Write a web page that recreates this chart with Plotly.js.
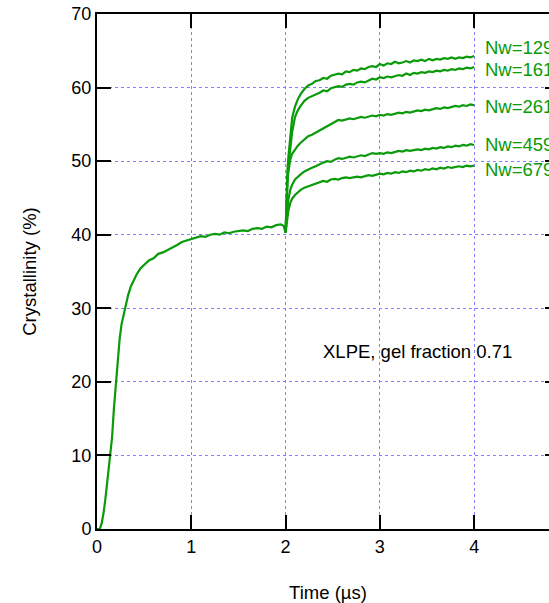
<!DOCTYPE html>
<html>
<head>
<meta charset="utf-8">
<script src="https://cdn.plot.ly/plotly-3.0.1.min.js"></script>
<style>
html,body{margin:0;padding:0;overflow:hidden;background:#fff;}
#chart{width:600px;height:603px;}
</style>
</head>
<body>
<div id="chart"></div>
<script>
// Common curve, 0 - 2 µs
const tBase = [0,0.03,0.05,0.07,0.09,0.11,0.13,0.145,0.16,0.18,
  0.2,0.22,0.24,0.26,0.28,0.3,0.33,0.36,0.39,0.42,
  0.46,0.5,0.55,0.6,0.65,0.7,0.75,0.8,0.85,0.9,
  0.95,1.0,1.05,1.1,1.15,1.2,1.25,1.3,1.35,1.4,
  1.45,1.5,1.55,1.6,1.65,1.7,1.75,1.8,1.85,1.9,
  1.95,1.98,2.0];
const yBase = [0,0,0.8,2.2,4.2,6.5,8.8,10.2,12.5,16.5,
  20,23.2,25.8,27.8,29.0,30.2,31.8,33.0,33.9,34.6,
  35.4,35.9,36.5,36.8,37.4,37.6,37.9,38.2,38.6,39.0,
  39.2,39.5,39.6,39.8,39.7,40.0,40.1,40.0,40.3,40.2,
  40.4,40.5,40.6,40.5,40.8,40.9,40.8,41.1,41.0,41.3,
  41.4,41.2,40.3];

// Branches after 2 µs
const tBranch = [2.00,2.01,2.02,2.03,2.05,2.07,2.10,2.13,2.16,2.20,
  2.24,2.28,2.32,2.36,2.40,2.44,2.48,2.52,2.56,2.60,
  2.64,2.68,2.72,2.76,2.80,2.84,2.88,2.92,2.96,3.00,
  3.04,3.08,3.12,3.16,3.20,3.24,3.28,3.32,3.36,3.40,
  3.44,3.48,3.52,3.56,3.60,3.64,3.68,3.72,3.76,3.80,
  3.84,3.88,3.92,3.96,4.00];

const yNw129 = [40.3,45.5,48.8,50.6,53.8,55.9,57.4,58.4,59.1,59.8,
  60.3,60.5,60.9,61.0,61.3,61.2,61.6,61.7,61.9,61.8,
  62.2,62.1,62.4,62.3,62.6,62.5,62.8,62.9,62.8,63.2,
  63.0,63.3,63.2,63.5,63.3,63.4,63.6,63.4,63.7,63.6,
  63.8,63.6,63.9,63.7,63.9,63.8,64.0,63.9,64.1,63.9,
  64.1,64.0,64.2,64.1,64.3];
const yNw161 = [40.3,44.5,47.2,49.3,52.0,54.0,56.0,56.9,57.5,58.2,
  58.6,58.8,59.1,59.3,59.6,59.5,59.9,60.0,60.2,60.1,
  60.4,60.5,60.4,60.7,60.8,60.7,61.0,61.2,61.1,61.4,
  61.3,61.5,61.4,61.6,61.7,61.6,61.9,61.7,62.0,61.9,
  62.1,62.0,62.2,62.1,62.3,62.2,62.4,62.3,62.5,62.4,
  62.6,62.5,62.7,62.6,62.8];
const yNw261 = [40.3,45.0,47.3,48.6,50.2,51.0,51.6,52.1,52.5,53.0,
  53.4,53.6,53.9,54.2,54.5,54.8,55.1,55.3,55.6,55.5,
  55.7,55.8,55.7,55.9,56.0,55.9,56.1,56.2,56.1,56.3,
  56.2,56.4,56.3,56.5,56.6,56.5,56.7,56.6,56.8,56.9,
  56.8,57.0,56.9,57.1,57.2,57.1,57.3,57.2,57.4,57.5,
  57.4,57.6,57.5,57.7,57.6];
const yNw459 = [40.3,42.3,43.8,44.8,46.1,46.8,47.5,47.9,48.2,48.6,
  48.9,49.1,49.3,49.6,49.8,50.0,49.9,50.2,50.4,50.3,
  50.5,50.6,50.5,50.7,50.8,50.7,50.9,51.1,51.0,51.1,
  51.0,51.2,51.1,51.3,51.4,51.3,51.5,51.4,51.5,51.6,
  51.5,51.7,51.6,51.8,51.7,51.9,51.8,52.0,51.9,52.1,
  52.0,52.2,52.1,52.3,52.2];
const yNw679 = [40.3,41.5,42.5,43.3,44.3,44.9,45.4,45.8,46.1,46.4,
  46.6,46.8,47.0,47.1,47.3,47.2,47.5,47.6,47.5,47.7,
  47.8,47.7,47.8,47.9,47.8,48.0,48.1,48.0,48.2,48.3,
  48.2,48.4,48.3,48.5,48.4,48.6,48.5,48.7,48.6,48.8,
  48.7,48.9,48.8,49.0,48.9,49.1,49.0,49.2,49.1,49.2,
  49.3,49.2,49.4,49.3,49.4];

const labelText = ["Nw=129","Nw=161","Nw=261","Nw=459","Nw=679"];
const labelY = [65.5,62.4,57.4,52.2,48.8];
const labelX = 4.12;
const noteText = "XLPE, gel fraction 0.71";
const noteX = 3.4, noteY = 24.1;

const green = "#0a9a0a";
const fontFam = "Liberation Sans, Arial, sans-serif";
const lineStyle = {color: green, width: 2.2};
const branches = [yNw129, yNw161, yNw261, yNw459, yNw679];

const traces = [{x: tBase, y: yBase, mode: "lines", line: lineStyle, hoverinfo: "skip"}];
branches.forEach(function (yy) {
  traces.push({x: tBranch, y: yy, mode: "lines", line: lineStyle, hoverinfo: "skip"});
});

const annotations = labelText.map(function (t, i) {
  return {x: labelX, y: labelY[i], xref: "x", yref: "y", text: t, showarrow: false,
    xanchor: "left", yanchor: "middle", xshift: -2, font: {size: 18.5, color: green, family: fontFam}};
});
annotations.push({x: noteX, y: noteY, xref: "x", yref: "y", text: noteText, showarrow: false,
  xanchor: "center", yanchor: "middle", font: {size: 18.5, color: "#000", family: fontFam}});

const axisCommon = {
  showline: true, linecolor: "#000", linewidth: 2, mirror: "ticks",
  ticks: "inside", ticklen: 14, tickwidth: 2, tickcolor: "#000",
  showgrid: true, gridcolor: "#7f7fff", gridwidth: 1, griddash: "dot",
  zeroline: false, tickfont: {size: 18, color: "#000", family: fontFam}
};

const layout = {
  width: 600, height: 603,
  margin: {l: 97, r: 41, t: 14, b: 74},
  paper_bgcolor: "#fff", plot_bgcolor: "#fff",
  showlegend: false,
  font: {family: fontFam},
  xaxis: Object.assign({}, axisCommon, {
    range: [0, 4.9], tickvals: [0,1,2,3,4], ticktext: ["0","1","2","3","4"],
    title: {text: "Time (µs)", font: {size: 18.5, color: "#000"}, standoff: 30}
  }),
  yaxis: Object.assign({}, axisCommon, {
    range: [0, 70], dtick: 10,
    title: {text: "Crystallinity (%)", font: {size: 18.5, color: "#000"}, standoff: 30}
  }),
  annotations: annotations
};

Plotly.newPlot("chart", traces, layout, {staticPlot: true, displayModeBar: false});
</script>
</body>
</html>
